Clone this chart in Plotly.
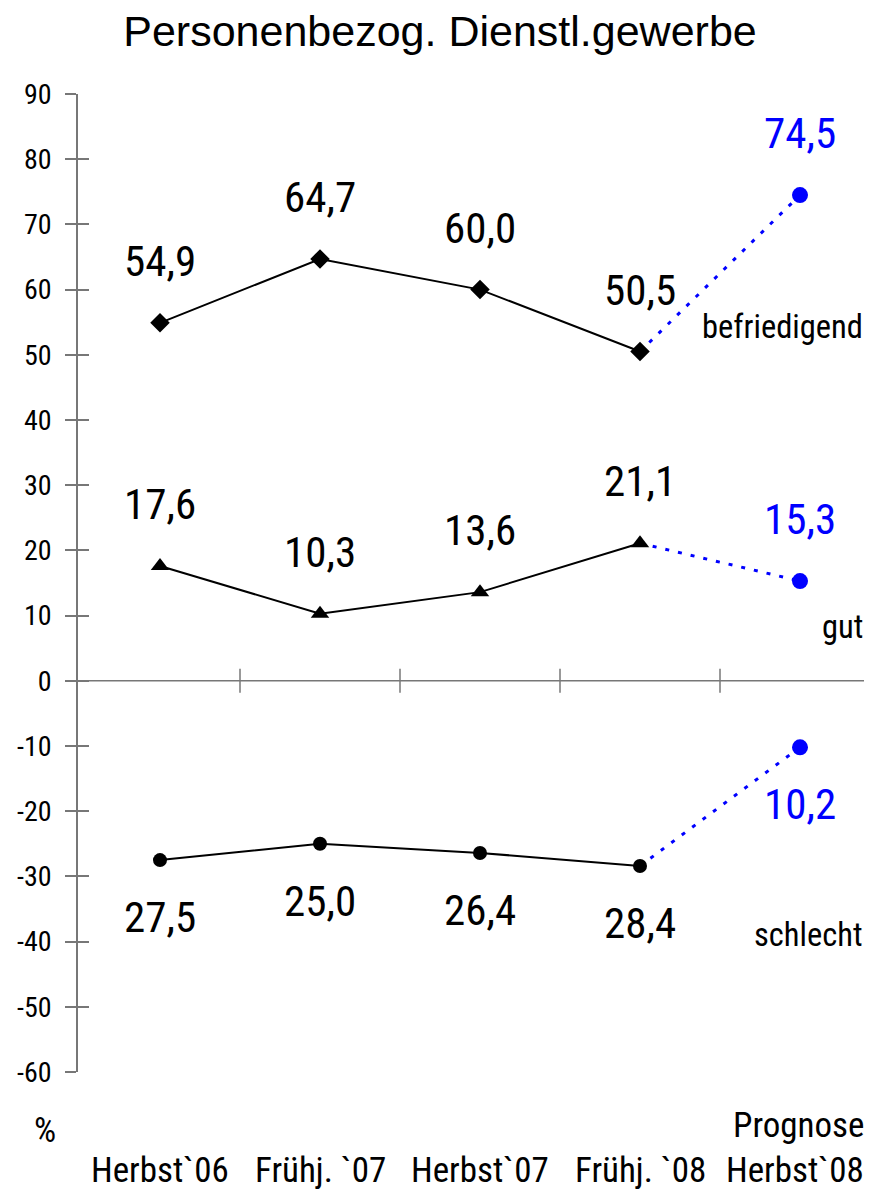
import plotly.graph_objects as go

categories = ["Herbst`06", "Frühj. `07", "Herbst`07", "Frühj. `08", "Herbst`08"]
befriedigend = [54.9, 64.7, 60.0, 50.5, 74.5]
gut = [17.6, 10.3, 13.6, 21.1, 15.3]
schlecht = [-27.5, -25.0, -26.4, -28.4, -10.2]
schlecht_labels = [27.5, 25.0, 26.4, 28.4, 10.2]
y_ticks = list(range(-60, 100, 10))

FONT = "Roboto Condensed, Liberation Sans Narrow, Arial Narrow, sans-serif"
TFONT = "Liberation Sans, Arial, sans-serif"
BLUE = "#0000FF"
GRAY = "#777777"

xs = list(range(len(categories)))
fig = go.Figure()

series = [
    ("befriedigend", befriedigend, "diamond", 15),
    ("gut", gut, "triangle-up", 16),
    ("schlecht", schlecht, "circle", 14),
]
for name, vals, sym, size in series:
    fig.add_trace(go.Scatter(x=xs[3:5], y=vals[3:5], mode="lines",
                             line=dict(color=BLUE, width=3, dash="4px,9px"),
                             showlegend=False, hoverinfo="skip"))
    fig.add_trace(go.Scatter(x=xs[:4], y=vals[:4], mode="lines+markers",
                             line=dict(color="black", width=2),
                             marker=dict(symbol=sym, size=size, color="black"),
                             showlegend=False, name=name))
    fig.add_trace(go.Scatter(x=[xs[4]], y=[vals[4]], mode="markers",
                             marker=dict(symbol="circle", size=16, color=BLUE),
                             showlegend=False, name=name + " Prognose"))

def fmt(v):
    return f"{v:.1f}".replace(".", ",")

LBL = 43
annotations = []
for i in range(5):
    col = BLUE if i == 4 else "black"
    annotations.append(dict(x=xs[i], y=befriedigend[i], xref="x", yref="y",
                            text=fmt(befriedigend[i]), showarrow=False,
                            yshift=62, font=dict(family=FONT, size=LBL, color=col)))
    annotations.append(dict(x=xs[i], y=gut[i], xref="x", yref="y",
                            text=fmt(gut[i]), showarrow=False,
                            yshift=62, font=dict(family=FONT, size=LBL, color=col)))
    annotations.append(dict(x=xs[i], y=schlecht[i], xref="x", yref="y",
                            text=fmt(schlecht_labels[i]), showarrow=False,
                            yshift=-57, font=dict(family=FONT, size=LBL, color=col)))
    if i < 4:
        annotations.append(dict(x=xs[i], y=0, xref="x", yref="paper",
                                text=categories[i], showarrow=False, yanchor="middle",
                                yshift=-98, font=dict(family=FONT, size=35, color="black")))
    else:
        annotations.append(dict(x=0.992, y=0, xref="paper", yref="paper",
                                text=categories[i], showarrow=False, yanchor="middle",
                                xanchor="right", yshift=-98,
                                font=dict(family=FONT, size=35, color="black")))

annotations += [
    dict(x=0.992, y=0, xref="paper", yref="paper", text="Prognose", showarrow=False,
         xanchor="right", yanchor="middle", yshift=-53,
         font=dict(family=FONT, size=35, color="black")),
    dict(x=0, y=0, xref="paper", yref="paper", text="%", showarrow=False,
         yanchor="middle", xanchor="center", yshift=-58, xshift=-33,
         font=dict(family=FONT, size=35, color="black")),
    dict(x=0.991, y=0.7615, xref="paper", yref="paper", text="befriedigend", showarrow=False,
         xanchor="right", yanchor="middle", font=dict(family=FONT, size=32.5, color="black")),
    dict(x=0.991, y=0.4555, xref="paper", yref="paper", text="gut", showarrow=False,
         xanchor="right", yanchor="middle", font=dict(family=FONT, size=32.5, color="black")),
    dict(x=0.991, y=0.140, xref="paper", yref="paper", text="schlecht", showarrow=False,
         xanchor="right", yanchor="middle", font=dict(family=FONT, size=32.5, color="black")),
]

shapes = [dict(type="line", xref="paper", yref="y", x0=-0.013, x1=1.0, y0=0, y1=0,
               line=dict(color=GRAY, width=1.5), layer="below")]
for b in [0.5, 1.5, 2.5, 3.5]:
    shapes.append(dict(type="line", xref="x", yref="y", x0=b, x1=b, y0=-1.85, y1=1.85,
                       line=dict(color=GRAY, width=1.5), layer="below"))

# page body has an 8px margin, so the figure is 8px smaller than the window
fig.update_layout(
    width=864, height=1184,
    margin=dict(l=70, r=0, t=86, b=120),
    paper_bgcolor="white", plot_bgcolor="white",
    title=dict(text="Personenbezog. Dienstl.gewerbe", x=0.5, xref="container",
               xanchor="center", y=1 - 23 / 1184, yref="container", yanchor="middle",
               font=dict(family=TFONT, size=43, color="black")),
    xaxis=dict(range=[-0.5125, 4.45], visible=False, fixedrange=True),
    yaxis=dict(range=[-60, 90], tickvals=y_ticks, ticktext=[str(v) for v in y_ticks],
               ticks="outside", ticklen=11, tickcolor=GRAY, tickwidth=1.5,
               ticklabelstandoff=8,
               showline=True, linecolor=GRAY, linewidth=1.5,
               showgrid=False, zeroline=False,
               tickfont=dict(family=FONT, size=28, color="black")),
    yaxis2=dict(range=[-60, 90], overlaying="y", side="left", anchor="x",
                tickvals=y_ticks, ticks="inside", ticklen=11, tickcolor=GRAY, tickwidth=1.5,
                showticklabels=False, showline=False, showgrid=False, zeroline=False),
    annotations=annotations,
    shapes=shapes,
)
fig.add_trace(go.Scatter(x=[None], y=[None], yaxis="y2", showlegend=False, hoverinfo="skip"))

fig.write_html("out.html")
